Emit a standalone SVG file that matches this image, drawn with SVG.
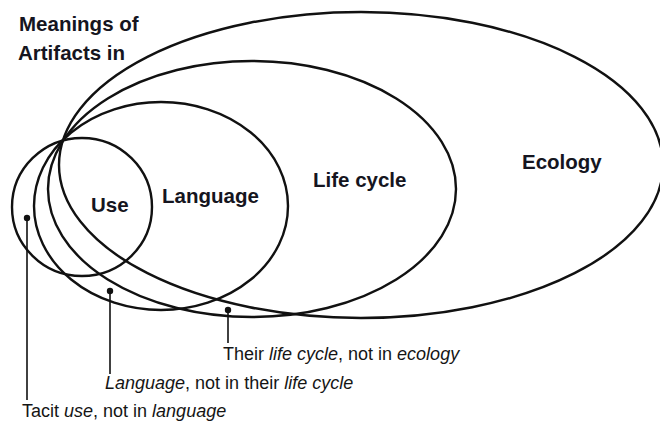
<svg xmlns="http://www.w3.org/2000/svg" width="660" height="423" viewBox="0 0 660 423">
  <style>
    .ring { fill: none; stroke: #111; stroke-width: 2.4; }
    .label { font-family: "Liberation Sans", Arial, Helvetica, sans-serif; font-weight: bold; font-size: 20.5px; fill: #151520; }
    .note { font-family: "Liberation Sans", Arial, Helvetica, sans-serif; font-size: 18px; fill: #151515; }
    .lead { stroke: #111; stroke-width: 1.6; fill: none; }
    .dot { fill: #111; }
    .it { font-style: italic; }
  </style>
  <rect width="660" height="423" fill="#fff"/>

  <!-- heading -->
  <g id="heading">
    <text class="label" x="19" y="31">Meanings of</text>
    <text class="label" x="18" y="60">Artifacts in</text>
  </g>

  <!-- nested domains, all sharing a common point near the upper left -->
  <g id="ecology">
    <ellipse class="ring" cx="361" cy="165" rx="302" ry="153"/>
    <text class="label" x="522" y="169">Ecology</text>
  </g>
  <g id="lifecycle">
    <ellipse class="ring" cx="252" cy="189" rx="204" ry="128"/>
    <text class="label" x="313" y="187">Life cycle</text>
  </g>
  <g id="language">
    <ellipse class="ring" cx="161" cy="206" rx="127" ry="104"/>
    <text class="label" x="162" y="203">Language</text>
  </g>
  <g id="use">
    <ellipse class="ring" cx="82" cy="207" rx="70" ry="69"/>
    <text class="label" x="91" y="212">Use</text>
  </g>

  <!-- callouts -->
  <g id="connectors">
    <circle class="dot" cx="27" cy="218" r="3.2"/>
    <line class="lead" x1="27" y1="218" x2="27" y2="400"/>
    <circle class="dot" cx="110" cy="291" r="3.2"/>
    <line class="lead" x1="110" y1="291" x2="110" y2="374"/>
    <circle class="dot" cx="228" cy="310" r="3.2"/>
    <line class="lead" x1="228" y1="310" x2="228" y2="343"/>

    <text class="note" x="223" y="360">Their <tspan class="it">life cycle</tspan>, not in <tspan class="it">ecology</tspan></text>
    <text class="note" x="105" y="389"><tspan class="it">Language</tspan>, not in their <tspan class="it">life cycle</tspan></text>
    <text class="note" x="22" y="417">Tacit <tspan class="it">use</tspan>, not in <tspan class="it">language</tspan></text>
  </g>
</svg>
